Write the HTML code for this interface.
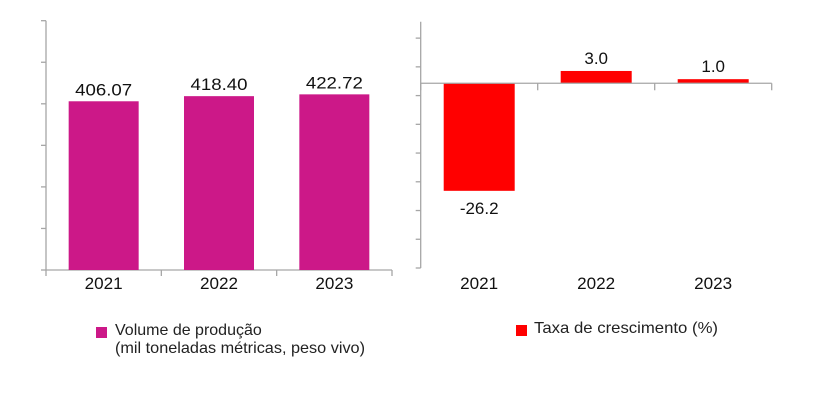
<!DOCTYPE html>
<html><head><meta charset="utf-8"><style>
body{margin:0;background:#fff;width:820px;height:405px;overflow:hidden;font-family:"Liberation Sans",sans-serif}
svg{position:absolute;left:0;top:0}
</style></head><body>
<svg id="c" width="820" height="405" font-family="Liberation Sans, sans-serif">
<rect x="96" y="327" width="11" height="11" fill="#cc1888"/>
<text x="115" y="335" font-size="16" fill="#222">Volume de produção</text>
<text x="115" y="353" font-size="16" fill="#222" textLength="250" lengthAdjust="spacingAndGlyphs">(mil toneladas métricas, peso vivo)</text>
<rect x="516" y="325" width="11" height="11" fill="#ff0000"/>
<text x="534" y="333" font-size="16" fill="#222" textLength="184" lengthAdjust="spacingAndGlyphs">Taxa de crescimento (%)</text>
</svg>
<script>
const categories=["2021","2022","2023"];
const volumeValues=[406.07,418.40,422.72];
const volumeLabels=["406.07","418.40","422.72"];
const growthValues=[-26.2,3.0,1.0];
const growthLabels=["-26.2","3.0","1.0"];
const volumeTicks=[0,100,200,300,400,500,600];
const growthTicks=[11,4,-3,-10,-17,-24,-31,-38,-45];
const NS="http://www.w3.org/2000/svg";
const svg=document.getElementById('c');
function mk(t,a,p){const e=document.createElementNS(NS,t);for(const k in a)e.setAttribute(k,a[k]);(p||svg).appendChild(e);return e;}
const axisCol="#a6a6a6";
const L={x0:46,x1:392,yTop:20.7,yBot:270,min:0,max:600};
const ly=v=>L.yBot-(v-L.min)/(L.max-L.min)*(L.yBot-L.yTop);
const lcw=(L.x1-L.x0)/categories.length;
const gl=mk('g',{});


let e=mk('line',{x1:L.x0,x2:L.x0,y1:L.yTop,y2:L.yBot,stroke:axisCol,'stroke-width':1.3},gl);


volumeTicks.forEach(t=>{const el=mk('line',{x1:L.x0-5,x2:L.x0,y1:ly(t),y2:ly(t),stroke:axisCol,'stroke-width':1.3},gl);

});
e=mk('line',{x1:L.x0,x2:L.x1,y1:L.yBot,y2:L.yBot,stroke:axisCol,'stroke-width':1.3},gl);


for(let i=0;i<=categories.length;i++){const el=mk('line',{x1:L.x0+i*lcw,x2:L.x0+i*lcw,y1:L.yBot,y2:L.yBot+6,stroke:axisCol,'stroke-width':1.3},gl);

}
categories.forEach((c,i)=>{const cx=L.x0+(i+0.5)*lcw;const v=volumeValues[i];
const b=mk('rect',{x:cx-35,width:70,y:ly(v),height:L.yBot-ly(v),fill:'#cc1888'},gl);


const t=mk('text',{x:cx,y:ly(v)-6,'text-anchor':'middle','font-size':17,fill:'#111',textLength:57,lengthAdjust:'spacingAndGlyphs'},gl);t.textContent=volumeLabels[i];


const xl=mk('text',{x:cx,y:289,'text-anchor':'middle','font-size':16.5,fill:'#111',textLength:38,lengthAdjust:'spacingAndGlyphs'},gl);xl.textContent=c;

});
const R={x0:420.7,x1:771.7,yTop:21.7,yBot:268,min:-45,max:15};
const ry=v=>R.yBot-(v-R.min)/(R.max-R.min)*(R.yBot-R.yTop);
const rcw=(R.x1-R.x0)/categories.length;
const gr=mk('g',{});


e=mk('line',{x1:R.x0,x2:R.x0,y1:R.yTop,y2:R.yBot,stroke:axisCol,'stroke-width':1.3},gr);


growthTicks.forEach(t=>{const el=mk('line',{x1:R.x0-5,x2:R.x0,y1:ry(t),y2:ry(t),stroke:axisCol,'stroke-width':1.3},gr);

});
categories.forEach((c,i)=>{const cx=R.x0+(i+0.5)*rcw;const v=growthValues[i];
const y0=ry(0),y1=ry(v);
const b=mk('rect',{x:cx-35.5,width:71,y:Math.min(y0,y1),height:Math.abs(y1-y0),fill:'#ff0000'},gr);


const t=mk('text',{x:cx,y:v<0?y1+23:y1-7,'text-anchor':'middle','font-size':17,fill:'#111'},gr);t.textContent=growthLabels[i];


const xl=mk('text',{x:cx,y:289,'text-anchor':'middle','font-size':16.5,fill:'#111',textLength:38,lengthAdjust:'spacingAndGlyphs'},gr);xl.textContent=c;

});
e=mk('line',{x1:R.x0,x2:R.x1,y1:ry(0),y2:ry(0),stroke:axisCol,'stroke-width':1.3},gr);


for(let i=0;i<=categories.length;i++){const el=mk('line',{x1:R.x0+i*rcw,x2:R.x0+i*rcw,y1:ry(0),y2:ry(0)+7,stroke:axisCol,'stroke-width':1.3},gr);

}
</script>
</body></html>
